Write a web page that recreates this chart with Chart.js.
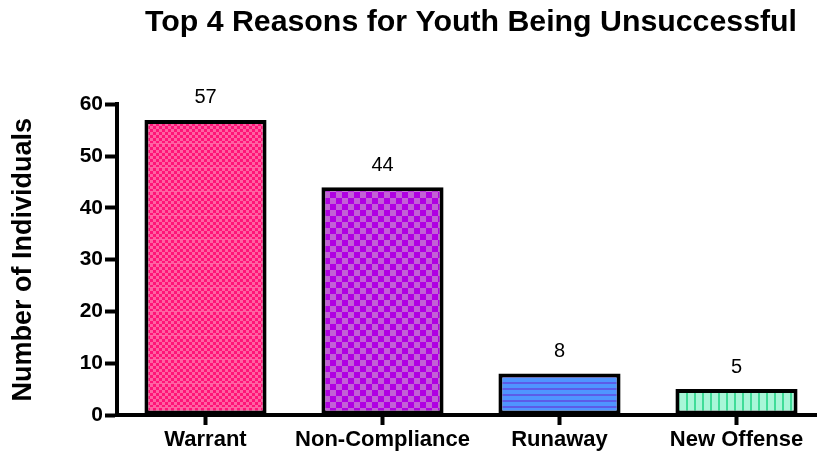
<!DOCTYPE html>
<html>
<head>
<meta charset="utf-8">
<script src="https://cdn.jsdelivr.net/npm/chart.js@4"></script>
<style>
  html, body { margin: 0; padding: 0; background: #fff; overflow: hidden; }
  #wrap { width: 817px; height: 457px; overflow: hidden; }
</style>
</head>
<body>
<div id="wrap"><canvas id="myChart" width="825" height="457"></canvas></div>
<script>
var categorias = ["Warrant", "Non-Compliance", "Runaway", "New Offense"];
var individuos = [57, 44, 8, 5];
var yTicks = [0, 10, 20, 30, 40, 50, 60];

var FONT = "'Liberation Sans', Arial, Helvetica, sans-serif";

// little tiles used as bar fills
var makeTile = (w, h, paint) => {
  var c = document.createElement("canvas");
  c.width = w;
  c.height = h;
  var g = c.getContext("2d");
  paint(g);
  return c;
};

var ctx = document.getElementById("myChart").getContext("2d");

var rosa = ctx.createPattern(makeTile(6, 24, (g) => {
  g.fillStyle = "#ff1478";
  g.fillRect(0, 0, 6, 24);
  g.fillStyle = "#ff62a2";
  for (var y = 0; y < 24; y += 3) {
    for (var x = 0; x < 6; x += 3) {
      if (((x + y) / 3) % 2 === 0) g.fillRect(x, y, 3, 3);
    }
  }
  g.fillRect(0, 23, 6, 1);
}), "repeat");

var violeta = ctx.createPattern(makeTile(12, 12, (g) => {
  g.fillStyle = "#b000e2";
  g.fillRect(0, 0, 12, 12);
  g.fillStyle = "#c261d6";
  g.fillRect(0, 0, 6, 6);
  g.fillRect(6, 6, 6, 6);
}), "repeat");

var azul = ctx.createPattern(makeTile(6, 6, (g) => {
  g.fillStyle = "#4f95ff";
  g.fillRect(0, 0, 6, 6);
  g.fillStyle = "#5c5ce8";
  g.fillRect(0, 4, 6, 2);
}), "repeat");

var menta = ctx.createPattern(makeTile(8, 8, (g) => {
  g.fillStyle = "#a8f6d8";
  g.fillRect(0, 0, 8, 8);
  g.fillStyle = "#3fdc98";
  g.fillRect(6, 0, 2, 8);
}), "repeat");

// numbers above each bar
var etiquetas = {
  id: "etiquetas",
  afterDatasetsDraw(chart) {
    var c = chart.ctx;
    var meta = chart.getDatasetMeta(0);
    c.save();
    c.font = "20px " + FONT;
    c.fillStyle = "#000";
    c.textAlign = "center";
    c.textBaseline = "bottom";
    meta.data.forEach((bar, i) => {
      c.fillText(String(individuos[i]), bar.x, bar.y - 12);
    });
    c.restore();
  },
};

var chart = new Chart(ctx, {
  type: "bar",
  data: {
    labels: categorias,
    datasets: [
      {
        data: individuos,
        backgroundColor: [rosa, violeta, azul, menta],
        borderColor: "#000",
        borderWidth: 4,
        borderSkipped: false,
        barPercentage: 0.69,
        categoryPercentage: 1,
      },
    ],
  },
  plugins: [etiquetas],
  options: {
    responsive: false,
    animation: false,
    events: [],
    layout: { padding: 0 },
    scales: {
      x: {
        afterFit: (s) => { s.height = 42; },
        grid: {
          offset: false,
          drawOnChartArea: false,
          tickLength: 10,
          tickWidth: 4,
          tickColor: "#000",
        },
        border: { display: true, color: "#000", width: 4 },
        ticks: {
          color: "#000",
          padding: 2,
          maxRotation: 0,
          minRotation: 0,
          autoSkip: false,
          font: { family: FONT, size: 22, weight: "bold" },
        },
      },
      y: {
        min: 0,
        max: 60,
        afterFit: (s) => { s.width = 117; },
        afterBuildTicks: (s) => { s.ticks = yTicks.map((v) => ({ value: v })); },
        grid: {
          drawOnChartArea: false,
          tickLength: 12,
          tickWidth: 4,
          tickColor: "#000",
        },
        border: { display: true, color: "#000", width: 4 },
        ticks: {
          color: "#000",
          padding: 2,
          font: { family: FONT, size: 21, weight: "bold" },
        },
        title: {
          display: true,
          text: "Number of Individuals",
          color: "#000",
          padding: { top: 7, bottom: 0 },
          font: { family: FONT, size: 27, weight: "bold" },
        },
      },
    },
    plugins: {
      legend: { display: false },
      tooltip: { enabled: false },
      title: {
        display: true,
        fullSize: false,
        text: "Top 4 Reasons for Youth Being Unsuccessful",
        color: "#000",
        padding: { top: 4, bottom: 64 },
        font: { family: FONT, size: 30.3, weight: "bold" },
      },
    },
  },
});
</script>
</body>
</html>
